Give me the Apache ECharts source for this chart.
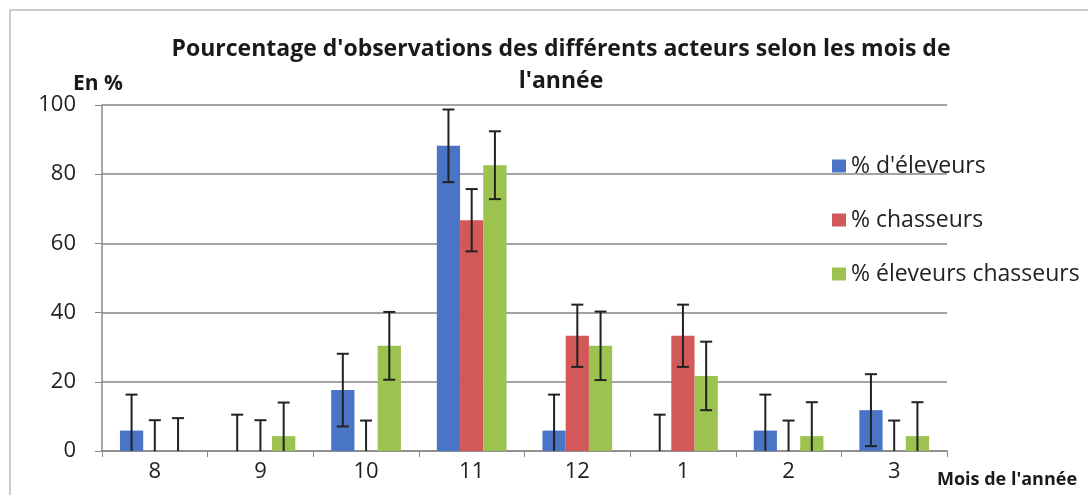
<!DOCTYPE html>
<html>
<head>
<meta charset="utf-8">
<script src="https://cdn.jsdelivr.net/npm/echarts@6/dist/echarts.min.js"></script>
<style>
  html, body { margin: 0; padding: 0; background: #fff; }
  #chart { width: 1088px; height: 495px; }
</style>
</head>
<body>
<div id="chart"></div>
<script>
// données
var mois = ['8', '9', '10', '11', '12', '1', '2', '3'];
var eleveurs = [5.9, 0, 17.6, 88.2, 5.9, 0, 5.9, 11.8];
var chasseurs = [0, 0, 0, 66.7, 33.3, 33.3, 0, 0];
var eleveursChasseurs = [0, 4.3, 30.4, 82.6, 30.4, 21.7, 4.3, 4.3];
// demi-largeur des barres d'erreur
var errEleveurs = [10.4, 10.5, 10.5, 10.5, 10.4, 10.5, 10.4, 10.4];
var errChasseurs = [8.9, 8.9, 8.8, 9.0, 9.0, 9.0, 8.8, 8.8];
var errEleveursChasseurs = [9.5, 9.7, 9.8, 9.8, 9.9, 9.9, 9.8, 9.8];
var yTicks = [0, 20, 40, 60, 80, 100];

var BAR_FRAC = 0.22;
var font = 'Open Sans';

function errData(vals, errs) {
  return vals.map(function (v, i) { return [i, v, errs[i]]; });
}

// barres d'erreur dessinées en custom series
function errRender(pos) {
  return function (params, api) {
    var i = api.value(0), v = api.value(1), e = api.value(2);
    var band = api.size([1, 0])[0];
    var x = api.coord([i, 0])[0] + (pos - 1) * band * BAR_FRAC;
    var lo = v - e;
    var yTop = api.coord([i, v + e])[1];
    var yBot = api.coord([i, Math.max(0, lo)])[1];
    var cap = 6;
    var st = { stroke: '#222', lineWidth: 2 };
    var children = [
      { type: 'line', shape: { x1: x, y1: yTop, x2: x, y2: yBot }, style: st },
      { type: 'line', shape: { x1: x - cap, y1: yTop, x2: x + cap, y2: yTop }, style: st }
    ];
    if (lo > 0) {
      children.push({ type: 'line', shape: { x1: x - cap, y1: yBot, x2: x + cap, y2: yBot }, style: st });
    }
    return { type: 'group', children: children };
  };
}

var chart = echarts.init(document.getElementById('chart'));
chart.setOption({
  animation: false,
  color: ['#4a74c6', '#d35858', '#9cc24f'],
  title: {
    text: "Pourcentage d'observations des différents acteurs selon les mois de\nl'année",
    left: 556,
    textAlign: 'center',
    top: 28,
    textStyle: { fontFamily: font, fontWeight: 'bold', fontSize: 23, color: '#1a1a1a', lineHeight: 32 }
  },
  graphic: [
    { type: 'rect', shape: { x: 10, y: 10, width: 1100, height: 500 }, style: { fill: 'none', stroke: '#999', lineWidth: 1 } },
    { type: 'text', left: 73, top: 74, style: { text: 'En %', fontFamily: font, fontWeight: 'bold', fontSize: 21, fill: '#1a1a1a' } },
    { type: 'text', left: 937, top: 471, style: { text: "Mois de l'année", fontFamily: font, fontWeight: 'bold', fontSize: 18, fill: '#1a1a1a' } }
  ],
  legend: {
    orient: 'vertical',
    left: 827,
    top: 149,
    itemGap: 30,
    icon: 'rect',
    itemWidth: 14,
    itemHeight: 13,
    data: ["% d'éleveurs", '% chasseurs', '% éleveurs chasseurs'],
    textStyle: { fontFamily: font, fontSize: 23, lineHeight: 24, color: '#222' }
  },
  grid: { left: 102, right: 141, top: 105, bottom: 44 },
  xAxis: {
    type: 'category',
    data: mois,
    axisLine: { lineStyle: { color: '#888', width: 1.5 } },
    axisTick: { show: true, length: 6, lineStyle: { color: '#888' } },
    axisLabel: { fontFamily: font, fontSize: 22, color: '#222', margin: 10 }
  },
  yAxis: {
    type: 'value',
    min: 0,
    max: 100,
    interval: 20,
    axisLine: { show: true, lineStyle: { color: '#888', width: 1.5 } },
    axisTick: { show: true, length: 7, lineStyle: { color: '#888' } },
    axisLabel: {
      fontFamily: font, fontSize: 22, color: '#222', margin: 26,
      formatter: function (v) { return yTicks.indexOf(v) >= 0 ? String(v) : ''; }
    },
    splitLine: { lineStyle: { color: '#8c8286', width: 1.5 } }
  },
  series: [
    { name: "% d'éleveurs", type: 'bar', data: eleveurs, barWidth: (BAR_FRAC * 100) + '%', barGap: '0%' },
    { name: '% chasseurs', type: 'bar', data: chasseurs, barWidth: (BAR_FRAC * 100) + '%', barGap: '0%' },
    { name: '% éleveurs chasseurs', type: 'bar', data: eleveursChasseurs, barWidth: (BAR_FRAC * 100) + '%', barGap: '0%' },
    { name: 'err1', type: 'custom', renderItem: errRender(0), data: errData(eleveurs, errEleveurs), encode: { x: 0, y: 1 }, z: 5, silent: true },
    { name: 'err2', type: 'custom', renderItem: errRender(1), data: errData(chasseurs, errChasseurs), encode: { x: 0, y: 1 }, z: 5, silent: true },
    { name: 'err3', type: 'custom', renderItem: errRender(2), data: errData(eleveursChasseurs, errEleveursChasseurs), encode: { x: 0, y: 1 }, z: 5, silent: true }
  ]
});
</script>
</body>
</html>
